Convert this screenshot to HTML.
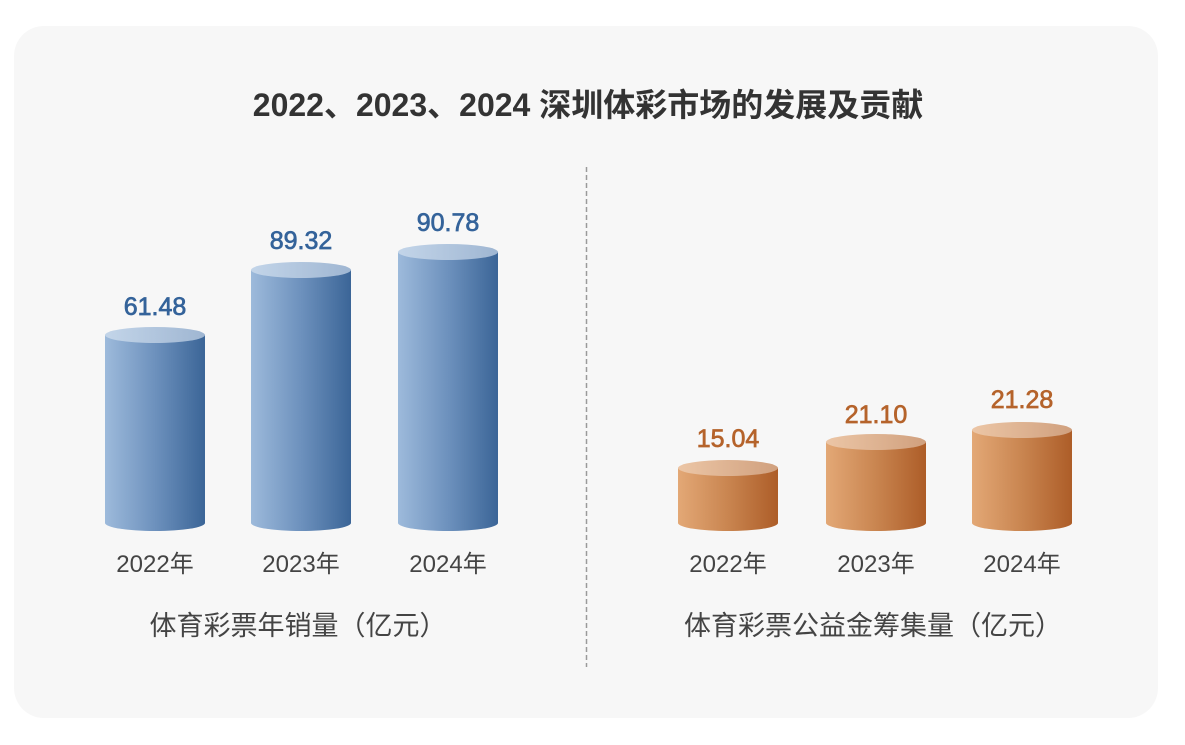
<!DOCTYPE html>
<html>
<head>
<meta charset="utf-8">
<style>
  html,body{margin:0;padding:0;background:#ffffff;}
  svg{display:block;}
  text{font-family:"Liberation Sans","Noto Sans CJK SC",sans-serif;}
</style>
</head>
<body>
<svg width="1185" height="745" viewBox="0 0 1185 745" xmlns="http://www.w3.org/2000/svg">
  <defs>
    <linearGradient id="bBody" x1="0" y1="0" x2="1" y2="0">
      <stop offset="0" stop-color="#9dbadb"/>
      <stop offset="0.5" stop-color="#6d91bd"/>
      <stop offset="1" stop-color="#3b6597"/>
    </linearGradient>
    <linearGradient id="bTop" x1="0" y1="0" x2="1" y2="0">
      <stop offset="0" stop-color="#c3d5e9"/>
      <stop offset="1" stop-color="#9fb6d2"/>
    </linearGradient>
    <linearGradient id="oBody" x1="0" y1="0" x2="1" y2="0">
      <stop offset="0" stop-color="#e3a876"/>
      <stop offset="0.5" stop-color="#c98550"/>
      <stop offset="1" stop-color="#ad5d28"/>
    </linearGradient>
    <linearGradient id="oTop" x1="0" y1="0" x2="1" y2="0">
      <stop offset="0" stop-color="#ecc6a6"/>
      <stop offset="1" stop-color="#d0a07e"/>
    </linearGradient>
  </defs>

  <rect x="14" y="26" width="1144" height="692" rx="30" ry="30" fill="#f7f7f7"/>

  <text x="588" y="116" text-anchor="middle" font-size="32" font-weight="bold" fill="#333333">2022、2023、2024 深圳体彩市场的发展及贡献</text>

  <line x1="586.5" y1="167" x2="586.5" y2="667" stroke="#9a9a9a" stroke-width="1.5" stroke-dasharray="5 3"/>

  <!-- Blue cylinders -->
  <path d="M105,335 L105,523 A50,8 0 0 0 205,523 L205,335 Z" fill="url(#bBody)"/>
  <ellipse cx="155" cy="335" rx="50" ry="8" fill="url(#bTop)"/>
  <path d="M251,270 L251,523 A50,8 0 0 0 351,523 L351,270 Z" fill="url(#bBody)"/>
  <ellipse cx="301" cy="270" rx="50" ry="8" fill="url(#bTop)"/>
  <path d="M398,252 L398,523 A50,8 0 0 0 498,523 L498,252 Z" fill="url(#bBody)"/>
  <ellipse cx="448" cy="252" rx="50" ry="8" fill="url(#bTop)"/>

  <g font-size="25" fill="#34639a" stroke="#34639a" stroke-width="0.7" text-anchor="middle">
    <text x="155" y="315">61.48</text>
    <text x="301" y="249">89.32</text>
    <text x="448" y="231">90.78</text>
  </g>

  <!-- Orange cylinders -->
  <path d="M678,468 L678,523 A50,8 0 0 0 778,523 L778,468 Z" fill="url(#oBody)"/>
  <ellipse cx="728" cy="468" rx="50" ry="8" fill="url(#oTop)"/>
  <path d="M826,442 L826,523 A50,8 0 0 0 926,523 L926,442 Z" fill="url(#oBody)"/>
  <ellipse cx="876" cy="442" rx="50" ry="8" fill="url(#oTop)"/>
  <path d="M972,430 L972,523 A50,8 0 0 0 1072,523 L1072,430 Z" fill="url(#oBody)"/>
  <ellipse cx="1022" cy="430" rx="50" ry="8" fill="url(#oTop)"/>

  <g font-size="25" fill="#b5632b" stroke="#b5632b" stroke-width="0.7" text-anchor="middle">
    <text x="728" y="447">15.04</text>
    <text x="876" y="423">21.10</text>
    <text x="1022" y="408">21.28</text>
  </g>

  <!-- Year labels -->
  <g font-size="24" fill="#444444" text-anchor="middle">
    <text x="155" y="572">2022年</text>
    <text x="301" y="572">2023年</text>
    <text x="448" y="572">2024年</text>
    <text x="728" y="572">2022年</text>
    <text x="876" y="572">2023年</text>
    <text x="1022" y="572">2024年</text>
  </g>

  <!-- Subtitles -->
  <g font-size="27" fill="#444444" text-anchor="middle">
    <text x="298" y="635">体育彩票年销量（亿元）</text>
    <text x="873" y="635">体育彩票公益金筹集量（亿元）</text>
  </g>
</svg>
</body>
</html>
